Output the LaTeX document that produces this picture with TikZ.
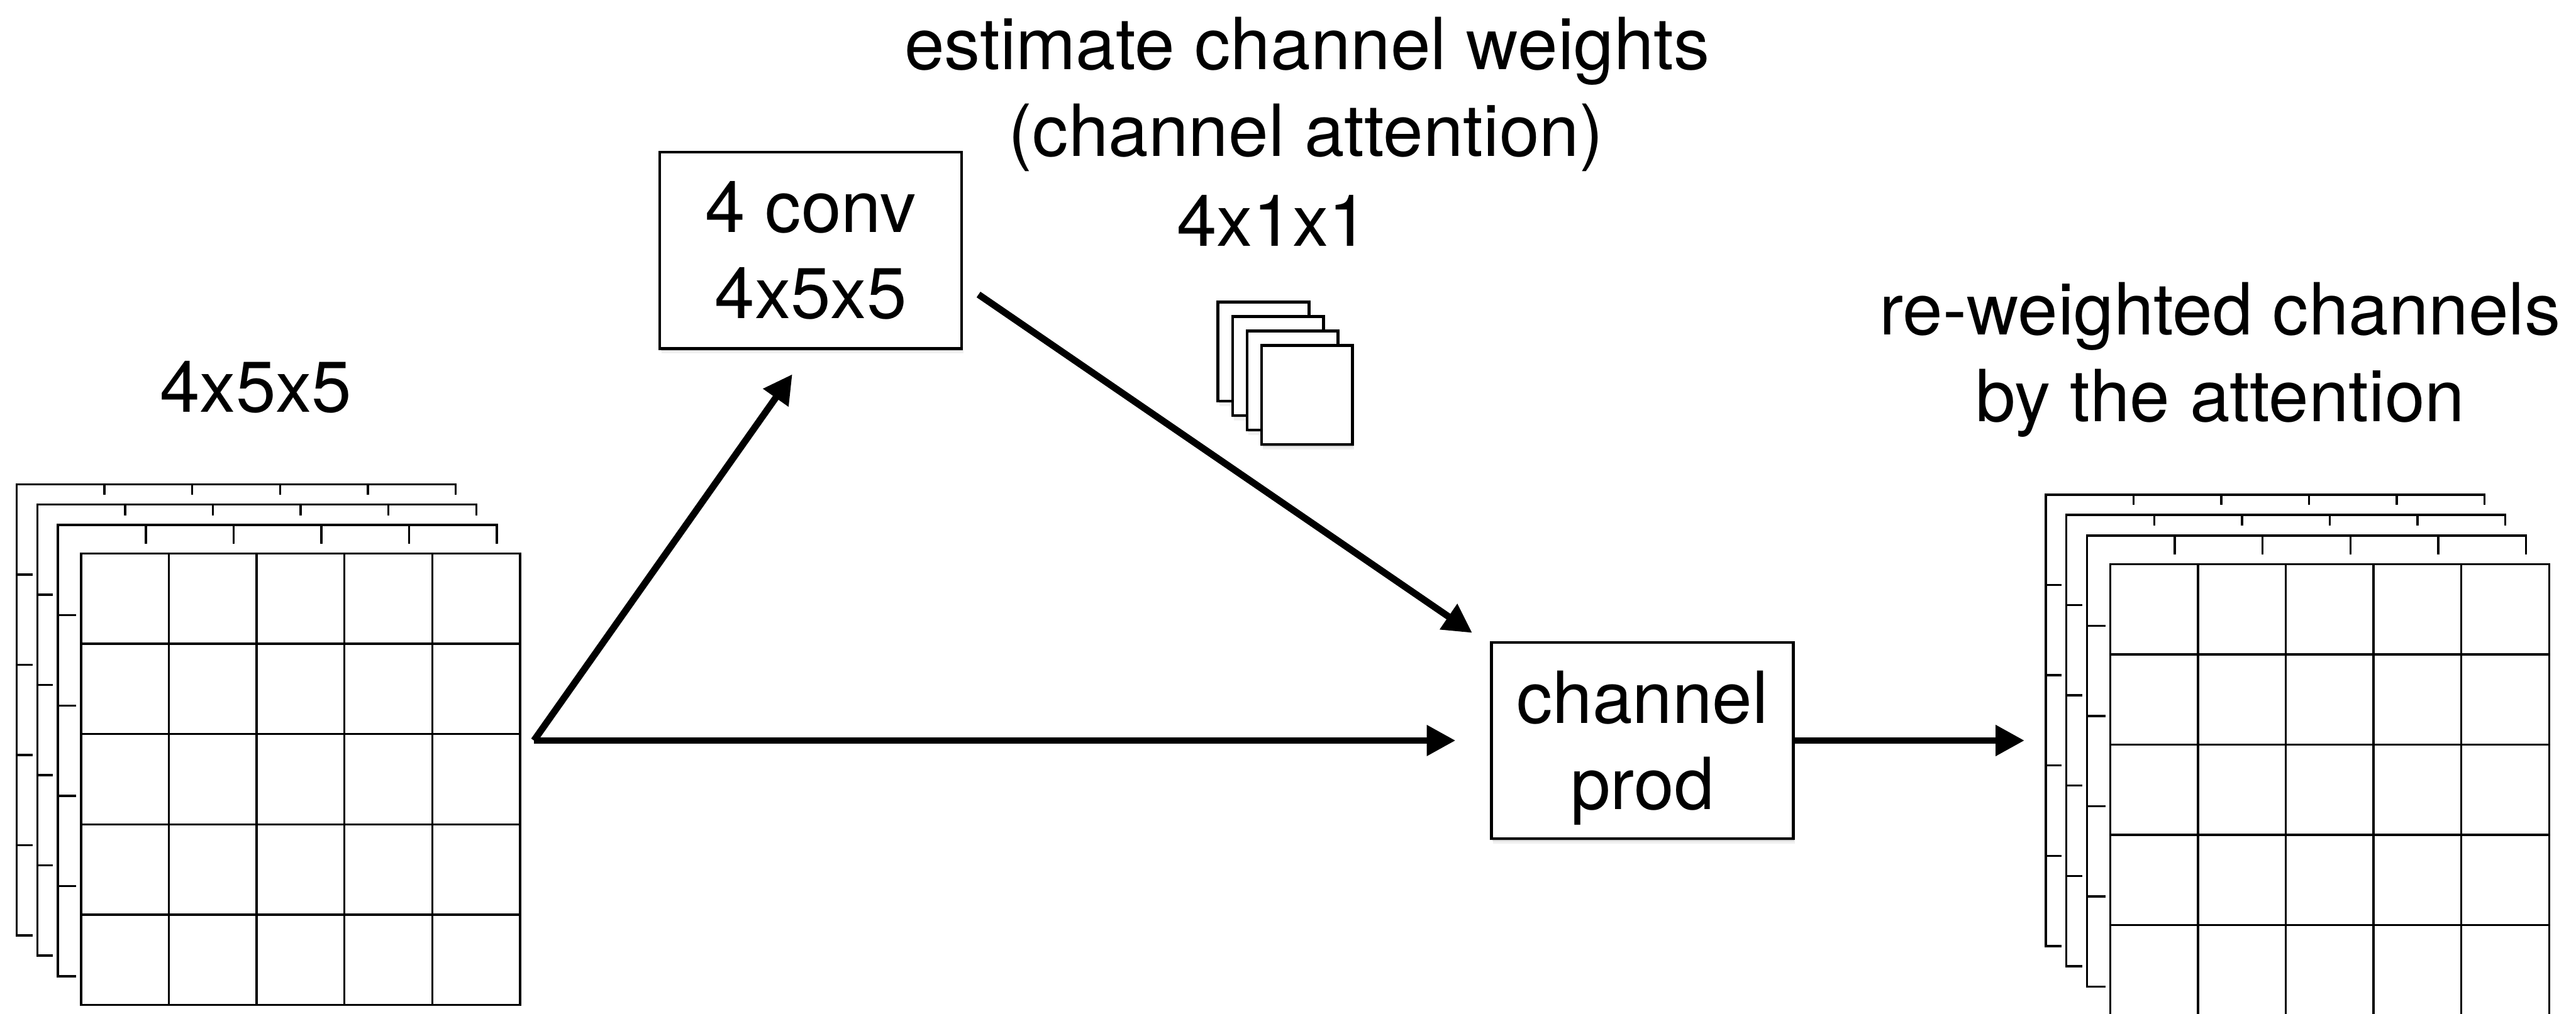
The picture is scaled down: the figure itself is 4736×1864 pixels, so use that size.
\documentclass[tikz,border=0pt]{standalone}
\usepackage{fontspec}
\setmainfont{TeX Gyre Heros}
\usetikzlibrary{arrows.meta,shadows}

% one feature map stack: four 5x5 grids, each one hiding most of the one behind it
% #1,#2 = top-left corner of the rear grid
\newcommand\featstack[2]{%
  \foreach \dx/\dy in {0/0, 38/37, 76/75, 118.5/127.5}{%
    \fill[white] ({#1+\dx-9},{#2+\dy-18}) rectangle ++(830,860);
    \foreach \k in {0,...,5}{%
      \draw[gridline] ({#1+\dx+\k*161.4},{#2+\dy}) -- ++(0,830);
      \draw[gridline] ({#1+\dx},{#2+\dy+\k*166}) -- ++(807,0);
    }%
  }%
}

\begin{document}
\begin{tikzpicture}[x=0.01cm, y=-0.01cm,
  txt/.style={font=\fontsize{37.6pt}{45.2pt}\selectfont},
  lbl/.style={txt, inner sep=0pt, anchor=base},
  gridline/.style={line width=0.04cm, line cap=rect},
  softshadow/.style={
    drop shadow={shadow xshift=0.02cm, shadow yshift=-0.04cm, opacity=0.12, fill=black},
    drop shadow={shadow xshift=0.03cm, shadow yshift=-0.09cm, opacity=0.06, fill=black}},
  opbox/.style={draw, line width=0.05cm, fill=white, softshadow, txt,
    minimum width=5.55cm, minimum height=3.61cm, inner sep=0pt, align=center},
  attsq/.style={draw, line width=0.05cm, fill=white, softshadow,
    minimum width=1.673cm, minimum height=1.82cm, inner sep=0pt},
  arr/.style={line width=0.125cm, -{Triangle[length=0.53cm, width=0.54cm]}}
]
\useasboundingbox (0,0) rectangle (4736,1864);
\fill[white] (0,0) rectangle (4736,1864);

% input and output feature maps (the output one runs off the bottom edge)
\featstack{30.6}{890.6}
\featstack{3761}{910}

% labels
\node[lbl] (est)    at (2403,128)    {estimate channel weights};
\node[lbl] (chatt)  at (2401,287)    {(channel attention)};
\node[lbl] (attdim) at (2340,453)    {4x1x1};
\node[lbl] (indim)  at (470.5,758)   {4x5x5};
\node[lbl] (outl1)  at (4081.6,616)  {re-weighted channels};
\node[lbl] (outl2)  at (4081.6,775)  {by the attention};

% channel weights 4x1x1
\node[attsq] (att1) at (2322.9,646.5) {};
\node[attsq] (att2) at (2349.6,673.2) {};
\node[attsq] (att3) at (2376.2,699.8) {};
\node[attsq] (att4) at (2402.9,726.5) {};

% operations
\node[opbox] (conv) at (1490.5,460.5) {4 conv\\4x5x5};
\node[opbox] (prod) at (3019.5,1362)  {channel\\\smash{p}rod};

% connectors
\coordinate (fork)   at (981.7,1362);
\coordinate (uptip)  at (1456.7,688.3);
\coordinate (htip)   at (2676,1362);
\coordinate (dstart) at (1799,541.7);
\coordinate (dtip)   at (2706.7,1164);
\coordinate (otip)   at (3722,1362);

\draw[arr] (fork) -- (uptip);
\draw[arr] (fork) -- (htip);
\draw[arr] (dstart) -- (dtip);
\draw[arr] (prod.east) -- (otip);
\end{tikzpicture}
\end{document}
